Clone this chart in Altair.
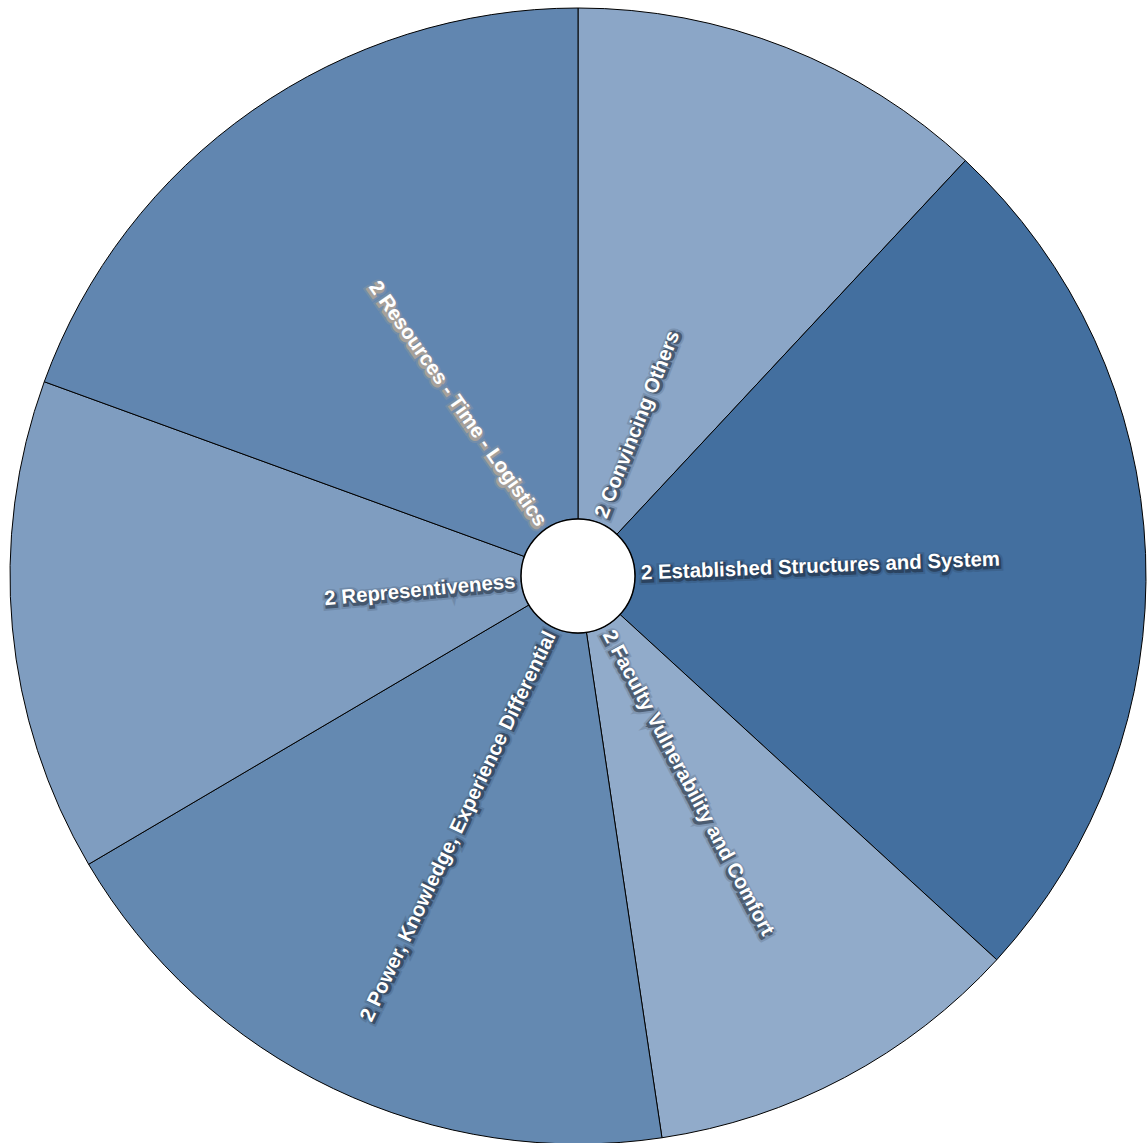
import altair as alt
import pandas as pd

labels = [
    "2 Convincing Others",
    "2 Established Structures and System",
    "2 Faculty Vulnerability and Comfort",
    "2 Power, Knowledge, Experience Differential",
    "2 Representiveness",
    "2 Resources - Time - Logistics",
]
values = [43, 89.5, 39, 68, 50.5, 70]
glow_colors = ["#1b2533", "#1b2533", "#1b2533", "#1b2533", "#1b2533", "#d9b48c"]

df = pd.DataFrame({"label": labels, "value": values, "glow": glow_colors})
df["idx"] = range(len(df))
total = df["value"].sum()
cum = df["value"].cumsum()
mid = (cum - df["value"] / 2) / total * 360.0
df["side"] = ["R" if m < 180 else "L" for m in mid]
df["textAngle"] = [((m - 90) % 360) if m < 180 else ((m + 90) % 360) for m in mid]

CX, CY = 578, 576
R_OUT, R_IN, R_TXT = 568, 57, 63
FONT = "Liberation Sans"
FS = 20.4

base = alt.Chart(df).encode(
    theta=alt.Theta("value:Q", stack=True),
    order=alt.Order("idx:Q"),
    x=alt.value(CX),
    y=alt.value(CY),
)

arcs = base.mark_arc(
    outerRadius=R_OUT, innerRadius=R_IN, stroke="black", strokeWidth=1
).encode(
    color=alt.Color(
        "value:Q",
        scale=alt.Scale(domain=[39, 89.5], range=["#91abca", "#436f9f"], interpolate="rgb"),
        legend=None,
    )
)

hole = alt.Chart(pd.DataFrame({"v": [1]})).mark_point(
    shape="circle", filled=True, fill="white", stroke="black", strokeWidth=1.5,
    size=(2 * R_IN) ** 2, opacity=1
).encode(x=alt.value(CX), y=alt.value(CY))


def text_layer(side, align, **kw):
    return base.mark_text(
        radius=R_TXT, align=align, baseline="middle", font=FONT, fontSize=FS,
        fontWeight="bold", **kw
    ).encode(
        text=alt.condition(alt.datum.side == side, alt.Text("label:N"), alt.value("")),
        angle=alt.Angle("textAngle:Q", scale=None),
    )


layers = [arcs, hole]
for side, align in [("R", "left"), ("L", "right")]:
    glow_wide = text_layer(side, align, strokeWidth=7, opacity=0.15, dx=1, dy=2).encode(
        fill=alt.Fill("glow:N", scale=None), stroke=alt.Stroke("glow:N", scale=None)
    )
    glow = text_layer(side, align, strokeWidth=3, opacity=0.5, dx=1, dy=2).encode(
        fill=alt.Fill("glow:N", scale=None), stroke=alt.Stroke("glow:N", scale=None)
    )
    front = text_layer(side, align, fill="white")
    layers += [glow_wide, glow, front]

chart = alt.layer(*layers).properties(
    width=1147, height=1143, padding=0, autosize="none", background="white"
).configure_view(stroke=None)

chart.save("out.html", embed_options={"renderer": "svg", "actions": False})
